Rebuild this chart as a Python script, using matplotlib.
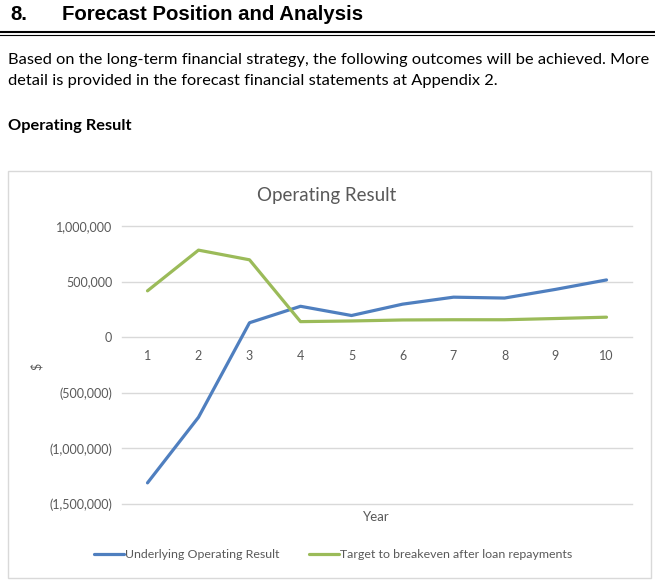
import matplotlib
matplotlib.use("Agg")
import matplotlib.pyplot as plt
from matplotlib.lines import Line2D
from matplotlib.patches import Rectangle
from matplotlib.ticker import FuncFormatter

years = [1, 2, 3, 4, 5, 6, 7, 8, 9, 10]
underlying = [-1310000, -720000, 130000, 278000, 195000, 297000, 360000, 352000, 430000, 515000]
target = [417000, 783000, 696000, 140000, 146000, 155000, 157000, 157000, 168000, 180000]
series_names = ["Underlying Operating Result", "Target to breakeven after loan repayments"]
y_ticks = [-1500000, -1000000, -500000, 0, 500000, 1000000]

W, H = 655, 581
fig = plt.figure(figsize=(W / 100, H / 100), dpi=100)
fig.patch.set_facecolor("white")

BODY = ["Lato", "DejaVu Sans"]
GRAY = "#595959"
BLUE = "#4F7FBF"
GREEN = "#9BBB59"

def px(x, y):
    return x / W, 1 - y / H

def fit_text(s, x, y, width, family, weight="normal", color="black", size0=10, va="center"):
    t = fig.text(*px(x, y), s, family=family, weight=weight, color=color, fontsize=size0, va=va, ha="left")
    r = fig.canvas.get_renderer()
    w = t.get_window_extent(renderer=r).width
    t.set_fontsize(size0 * width / w)
    return t

# document header
h = fit_text("Forecast Position and Analysis", 62, 15, 302, ["Liberation Sans"], weight="bold", size0=14)
fig.text(*px(10, 15), "8.", family=["Liberation Sans"], weight="bold", fontsize=h.get_fontsize(),
         va="center", ha="left")
fig.add_artist(Line2D([0, 1], [1 - 31.5 / H, 1 - 31.5 / H], color="black", lw=1.5))
fig.add_artist(Line2D([0, 1], [1 - 34.8 / H, 1 - 34.8 / H], color="black", lw=0.8))
fit_text("Based on the long-term financial strategy, the following outcomes will be achieved. More",
         8, 60, 639, BODY, size0=11)
fit_text("detail is provided in the forecast financial statements at Appendix 2.",
         8, 81, 486, BODY, size0=11)
fit_text("Operating Result", 8, 126, 123, BODY, weight="bold", size0=11)

# chart border
fig.add_artist(Rectangle(px(8, 578), 643 / W, 407 / H, fill=False, ec="#D9D9D9", lw=1,
                         transform=fig.transFigure))

# plot area
l, r_, t_, b_ = 122, 632, 226, 504
ax = fig.add_axes([l / W, 1 - b_ / H, (r_ - l) / W, (b_ - t_) / H])
ax.plot(years, underlying, color=BLUE, lw=2.3, solid_capstyle="round", label=series_names[0], zorder=3)
ax.plot(years, target, color=GREEN, lw=2.3, solid_capstyle="round", label=series_names[1], zorder=3)
ax.set_xlim(0.5, 10.5)
ax.set_ylim(-1500000, 1000000)
ax.set_yticks(y_ticks)
ax.yaxis.set_major_formatter(FuncFormatter(lambda v, p: "0" if v == 0 else (f"{v:,.0f}" if v > 0 else f"({-v:,.0f})")))
ax.set_xticks(years)
ax.grid(axis="y", color="#D9D9D9", lw=1)
for gl in ax.get_ygridlines():
    gl.set_clip_on(False)
ax.set_axisbelow(True)
for s in ax.spines.values():
    s.set_visible(False)
ax.spines["bottom"].set_position(("data", 0))
ax.tick_params(axis="both", length=0, labelsize=9, labelcolor=GRAY)
ax.tick_params(axis="x", pad=9)
ax.tick_params(axis="y", pad=7)
for lab in ax.get_xticklabels() + ax.get_yticklabels():
    lab.set_family(BODY)

fig.text(*px(327, 196), "Operating Result", family=BODY, fontsize=13.5, color=GRAY, ha="center", va="center")
fig.text(*px(37, 366), "$", family=BODY, fontsize=9, color=GRAY, ha="center", va="center", rotation=90)
fig.text(*px(376, 517), "Year", family=BODY, fontsize=9.5, color=GRAY, ha="center", va="center")

handles, labels = ax.get_legend_handles_labels()
fig.legend(handles, labels, loc="center", bbox_to_anchor=(px(333, 555)), ncol=2, frameon=False,
           prop={"family": BODY, "size": 8.9}, labelcolor=GRAY, handlelength=2.45, handletextpad=0.05,
           columnspacing=2.4)

fig.savefig("out.png", dpi=100, facecolor="white")
